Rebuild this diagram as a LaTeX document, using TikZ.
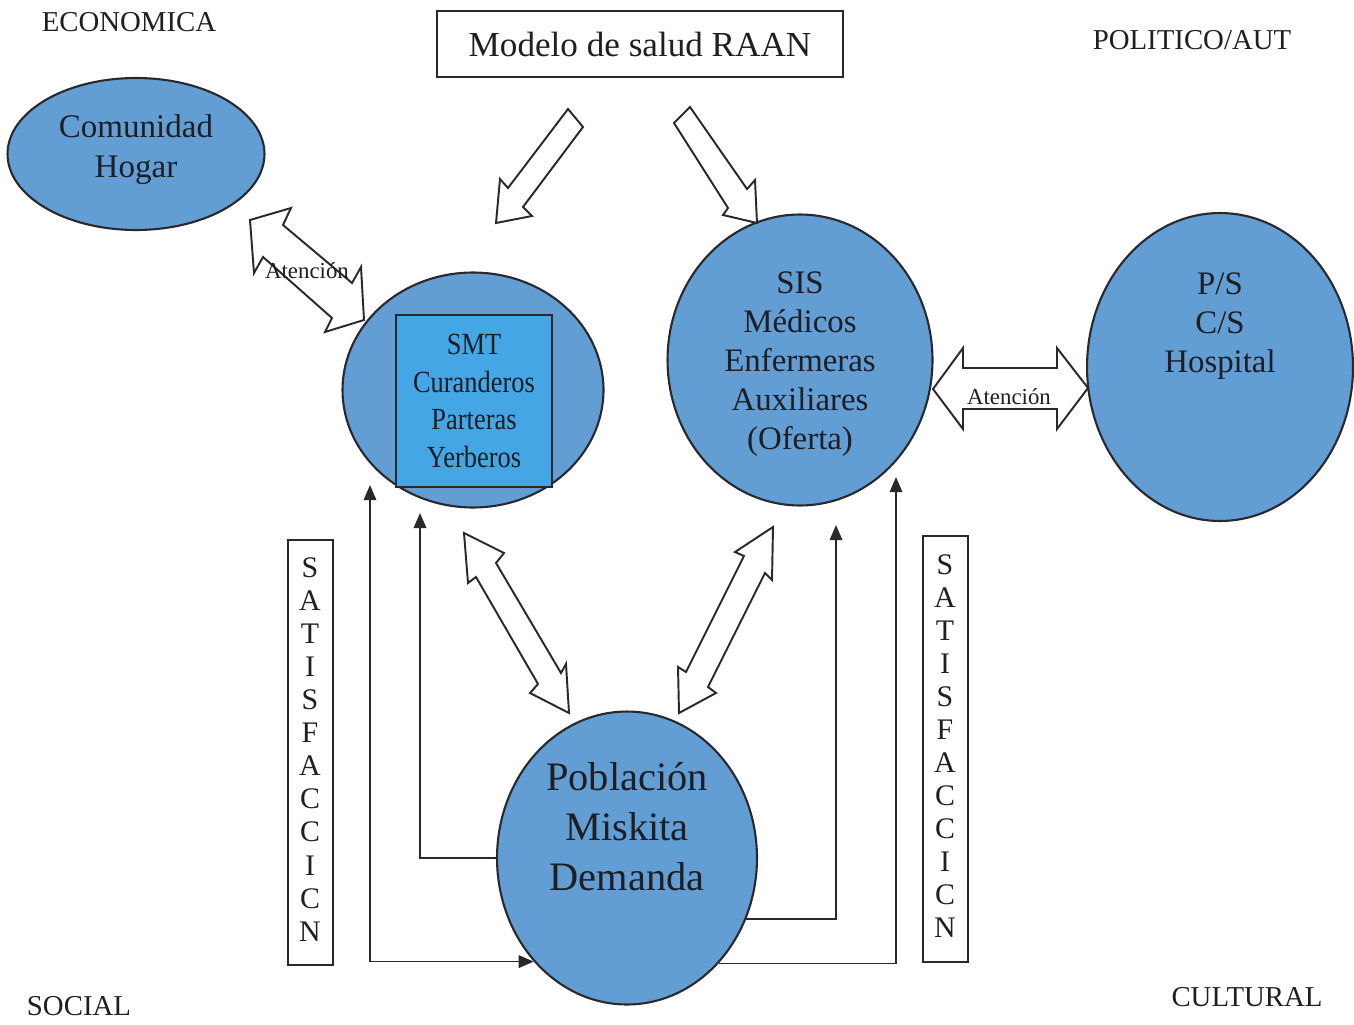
\documentclass[tikz,border=0pt]{standalone}
\usepackage{fontspec}
\setmainfont{Liberation Serif}
\newfontfamily\condfont[FakeStretch=0.86]{Liberation Serif}
\usetikzlibrary{arrows.meta,shapes.geometric}
\definecolor{ellblue}{RGB}{98,158,212}
\definecolor{boxblue}{RGB}{68,166,228}
\definecolor{edgec}{RGB}{40,40,45}
\definecolor{txt}{RGB}{30,30,35}
\begin{document}
\begin{tikzpicture}[x=0.02cm,y=-0.02cm,
  ell/.style={draw=edgec, line width=1.2pt, fill=ellblue, ellipse, inner sep=0pt},
  hollow/.style={draw=edgec, line width=1.1pt, fill=white, line join=miter},
  conn/.style={draw=edgec, line width=0.95pt, -{Triangle[length=3mm,width=2.5mm]}},
  lbl/.style={text=txt, align=center, inner sep=0pt},
  framebox/.style={draw=edgec, line width=1pt, inner sep=0pt},
]
\useasboundingbox (0,0) rectangle (1354,1024);

% ellipses
\node[ell, minimum width=5.14cm, minimum height=3.04cm] (com) at (136,154) {};
\node[ell, minimum width=5.22cm, minimum height=4.70cm] (smt) at (473,390) {};
\node[framebox, line width=1.1pt, fill=boxblue, minimum width=3.12cm, minimum height=3.44cm] (smtbox) at (474,401) {};
\node[ell, minimum width=5.30cm, minimum height=5.82cm] (sis) at (800,360) {};
\node[ell, minimum width=5.32cm, minimum height=6.16cm] (ps) at (1220,367) {};
\node[ell, minimum width=5.20cm, minimum height=5.86cm] (pob) at (627,858) {};

% texts in ellipses
\node[lbl, font=\fontsize{18.8}{22.7}\selectfont] (comt) at (136,150) {Comunidad\\Hogar};
\node[lbl, font=\condfont\fontsize{17.5}{21.5}\selectfont] (smtt) at (474,401) {SMT\\Curanderos\\Parteras\\Yerberos};
\node[lbl, font=\fontsize{18.7}{22.1}\selectfont] (sist) at (800,364) {SIS\\Médicos\\Enfermeras\\Auxiliares\\(Oferta)};
\node[lbl, font=\fontsize{18.7}{22.1}\selectfont] (pst) at (1220,326) {P/S\\C/S\\Hospital};
\node[lbl, font=\fontsize{23}{28.4}\selectfont] (pobt) at (627,827) {Población\\Miskita\\Demanda};

% title
\node[framebox, minimum width=8.12cm, minimum height=1.32cm, text=txt, font=\fontsize{20}{24}\selectfont] (title) at (640,44) {Modelo de salud RAAN};

% corner labels
\node[lbl, font=\fontsize{16.4}{19}\selectfont] (eco) at (129,22) {ECONOMICA};
\node[lbl, font=\fontsize{16.4}{19}\selectfont] (pol) at (1192,40) {POLITICO/AUT};
\node[lbl, font=\fontsize{16.4}{19}\selectfont] (soc) at (79,1006) {SOCIAL};
\node[lbl, font=\fontsize{16.4}{19}\selectfont] (cul) at (1247,997) {CULTURAL};

% satisfaccion boxes
\node[framebox, minimum width=0.9cm, minimum height=8.5cm] (satL) at (310.5,752.5) {};
\node[lbl, font=\fontsize{17}{18.8}\selectfont] (satLt) at (310,749.5) {S\\A\\T\\I\\S\\F\\A\\C\\C\\I\\C\\N};
\node[framebox, minimum width=0.9cm, minimum height=8.52cm] (satR) at (945.5,749) {};
\node[lbl, font=\fontsize{17}{18.8}\selectfont] (satRt) at (945,746) {S\\A\\T\\I\\S\\F\\A\\C\\C\\I\\C\\N};

% hollow block arrows
\draw[hollow] (568,109) -- (583,127) -- (523,207) -- (532,216) -- (496,223) -- (500,179) -- (508,188) -- cycle;
\draw[hollow] (690,107) -- (674,123) -- (728,208) -- (723,215) -- (757,223) -- (755,180) -- (747,189) -- cycle;
\draw[hollow] (250,220) -- (291,208) -- (283,225) -- (352,283) -- (361,267) -- (364,320) -- (325,332) -- (332,318) -- (263,257) -- (254,273) -- cycle;
\draw[hollow] (933,389) -- (963,348) -- (963,368) -- (1057,368) -- (1057,348) -- (1088,388) -- (1057,429) -- (1057,409) -- (963,409) -- (963,429) -- cycle;
\draw[hollow] (464,533) -- (504,553) -- (496,563) -- (561,673) -- (566,664) -- (569,713) -- (530,693) -- (538,684) -- (476,577) -- (468,583) -- cycle;
\draw[hollow] (773,527) -- (735,552) -- (744,556) -- (686,672) -- (678,667) -- (679,713) -- (716,693) -- (708,687) -- (765,573) -- (772,580) -- cycle;

% Atencion labels
\node[lbl, font=\fontsize{13}{15}\selectfont] (at1) at (307,271) {Atención};
\node[lbl, font=\fontsize{13}{15}\selectfont] (at2) at (1009,397) {Atención};

% thin connectors
\coordinate (a1) at (420,513);
\coordinate (a2) at (370,485);
\coordinate (a3) at (836,525);
\coordinate (a4) at (896,477);
\draw[conn] (pob.west) -| (a1);
\draw[conn, {Triangle[length=3mm,width=2.5mm]}-{Triangle[length=3mm,width=2.5mm]}] (a2) |- (pob.228.5);
\draw[conn] (pob.333.6) -| (a3);
\draw[conn] (pob.311.5) -| (a4);
\end{tikzpicture}
\end{document}
